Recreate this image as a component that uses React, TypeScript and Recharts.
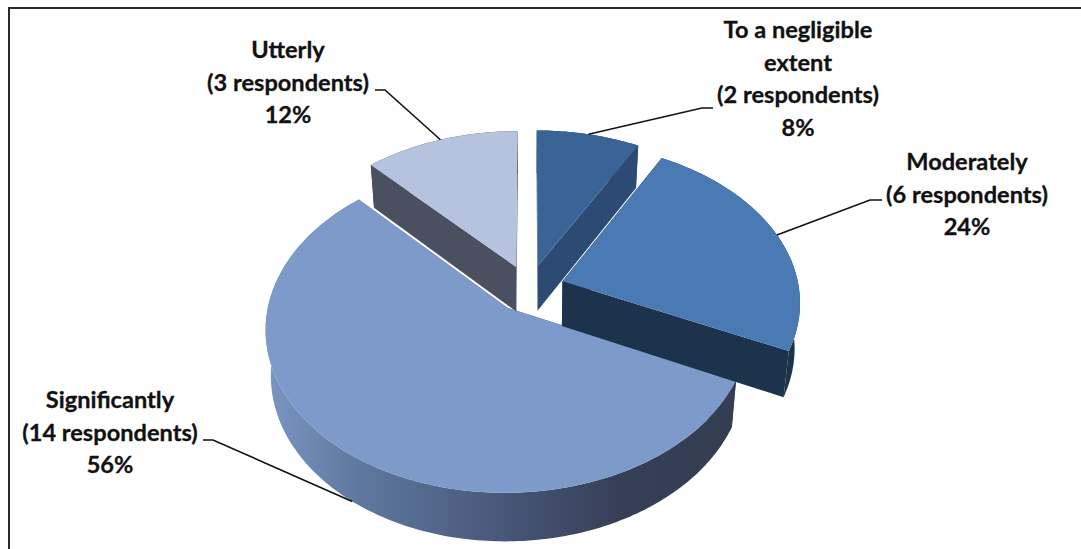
import { PieChart, Pie } from 'recharts';

// Slices are listed back to front so the exploded wedges overlap correctly
const categories = ['Significantly', 'Utterly', 'To a negligible extent', 'Moderately'];
const respondents = [14, 3, 2, 6];
const categoryLines = [['Significantly'], ['Utterly'], ['To a negligible', 'extent'], ['Moderately']];
const topColors = ['#7d9aca', '#b5c3de', '#3b6496', '#4a7ab3'];
const wallColors = ['url(#bigWall)', '#4a505f', '#2d4a75', '#1c324d'];

const total = respondents.reduce((a, b) => a + b, 0);
const tableData = categories.map((name, i) => ({ name, value: respondents[i], fill: topColors[i] }));

// First slice starts where "Moderately" ends, going clockwise from 12 o'clock
const firstAngle = 90 - (360 * (respondents[2] + respondents[3])) / total;

const CX = 529;
const CY = 288.5;
const RADIUS = 236.5;
const TILT = 0.665;
const PERSPECTIVE = 0.122;
const EXPLODE = 0.15;
const DEPTH = 45;

const RAD = Math.PI / 180;

// Map a point on the pie disc to the screen; level 1 is the underside of the pie
function project(x: number, y: number, level: number) {
  const s = 1 / (1 + PERSPECTIVE * y);
  const shrink = level ? 0.98 : 1;
  return {
    x: CX + RADIUS * x * s * shrink,
    y: CY - RADIUS * TILT * y * s + level * DEPTH * (0.5 + 0.5 * s),
  };
}

function rimPoint(angle: number, mid: number, level: number) {
  return project(
    EXPLODE * Math.cos(mid * RAD) + Math.cos(angle * RAD),
    EXPLODE * Math.sin(mid * RAD) + Math.sin(angle * RAD),
    level,
  );
}

function apexPoint(mid: number, level: number) {
  return project(EXPLODE * Math.cos(mid * RAD), EXPLODE * Math.sin(mid * RAD), level);
}

type Pt = { x: number; y: number };
const toPath = (pts: Pt[]) =>
  'M' + pts.map((p) => `${p.x.toFixed(1)},${p.y.toFixed(1)}`).join('L') + 'Z';

function arc(start: number, end: number, mid: number, level: number) {
  const steps = Math.max(2, Math.ceil(Math.abs(end - start)));
  const pts: Pt[] = [];
  for (let i = 0; i <= steps; i++) {
    pts.push(rimPoint(start + ((end - start) * i) / steps, mid, level));
  }
  return pts;
}

function Wedge(props: any) {
  const { startAngle, endAngle, index, fill } = props;
  const mid = (startAngle + endAngle) / 2;
  const wall = wallColors[index];
  const topArc = arc(startAngle, endAngle, mid, 0);
  const lowArc = arc(startAngle, endAngle, mid, 1);
  const apexTop = apexPoint(mid, 0);
  const apexLow = apexPoint(mid, 1);
  const n = topArc.length - 1;
  return (
    <g>
      <path d={toPath([apexTop, topArc[0], lowArc[0], apexLow])} fill={wall} />
      <path d={toPath([apexTop, topArc[n], lowArc[n], apexLow])} fill={wall} />
      <path d={toPath([...topArc, ...[...lowArc].reverse()])} fill={wall} />
      <path d={toPath([apexTop, ...topArc])} fill={fill} />
    </g>
  );
}

// Label text centre, first baseline and leader elbow for each slice
const labelPlacement = [
  { x: 110, y: 408, elbow: [[213, 440], [203, 440]], onUnderside: 1 },
  { x: 288, y: 58, elbow: [[385, 90], [375, 90]], onUnderside: 0 },
  { x: 798, y: 38, elbow: [[702, 108], [713, 108]], onUnderside: 0 },
  { x: 967, y: 170, elbow: [[870, 200], [882, 200]], onUnderside: 0 },
];

const LINE_HEIGHT = 32.7;

function SliceLabel(props: any) {
  const { index, midAngle } = props;
  const place = labelPlacement[index];
  const start = rimPoint(midAngle, midAngle, place.onUnderside);
  const pts = [[start.x, start.y], ...place.elbow];
  const lines = [
    ...categoryLines[index],
    `(${respondents[index]} respondents)`,
    `${Math.round((respondents[index] / total) * 100)}%`,
  ];
  return (
    <g>
      <polyline
        points={pts.map((p) => p.join(',')).join(' ')}
        fill="none"
        stroke="#111"
        strokeWidth={1.6}
      />
      <text
        textAnchor="middle"
        fontFamily="Lato, sans-serif"
        fontWeight={700}
        fontSize={23.6}
        fill="#111"
        stroke="#111"
        strokeWidth={0.3}
      >
        {lines.map((line, i) => (
          <tspan key={i} x={place.x} y={place.y + i * LINE_HEIGHT}>
            {line}
          </tspan>
        ))}
      </text>
    </g>
  );
}

export default function App() {
  return (
    <div style={{ position: 'absolute', left: 0, top: 0, width: 1081, height: 549, overflow: 'hidden' }}>
      <div
        style={{
          position: 'absolute',
          left: 8,
          top: 7,
          right: 0,
          bottom: 0,
          borderTop: '2px solid #2a2a2a',
          borderLeft: '2px solid #2a2a2a',
        }}
      />
      <div style={{ position: 'absolute', left: 0, top: 0 }}>
        <PieChart width={1081} height={549} margin={{ top: 0, right: 0, bottom: 0, left: 0 }}>
          <defs>
            <linearGradient id="bigWall" gradientUnits="userSpaceOnUse" x1={265} y1={0} x2={735} y2={0}>
              <stop offset="0" stopColor="#7a96c2" />
              <stop offset="0.2" stopColor="#5f789f" />
              <stop offset="0.5" stopColor="#48587a" />
              <stop offset="0.75" stopColor="#363f56" />
              <stop offset="1" stopColor="#343e52" />
            </linearGradient>
          </defs>
          <Pie
            data={tableData}
            dataKey="value"
            nameKey="name"
            cx={CX}
            cy={CY}
            outerRadius={RADIUS}
            startAngle={firstAngle}
            endAngle={firstAngle - 360}
            stroke="none"
            isAnimationActive={false}
            shape={Wedge}
            label={SliceLabel}
            labelLine={false}
          />
        </PieChart>
      </div>
    </div>
  );
}
